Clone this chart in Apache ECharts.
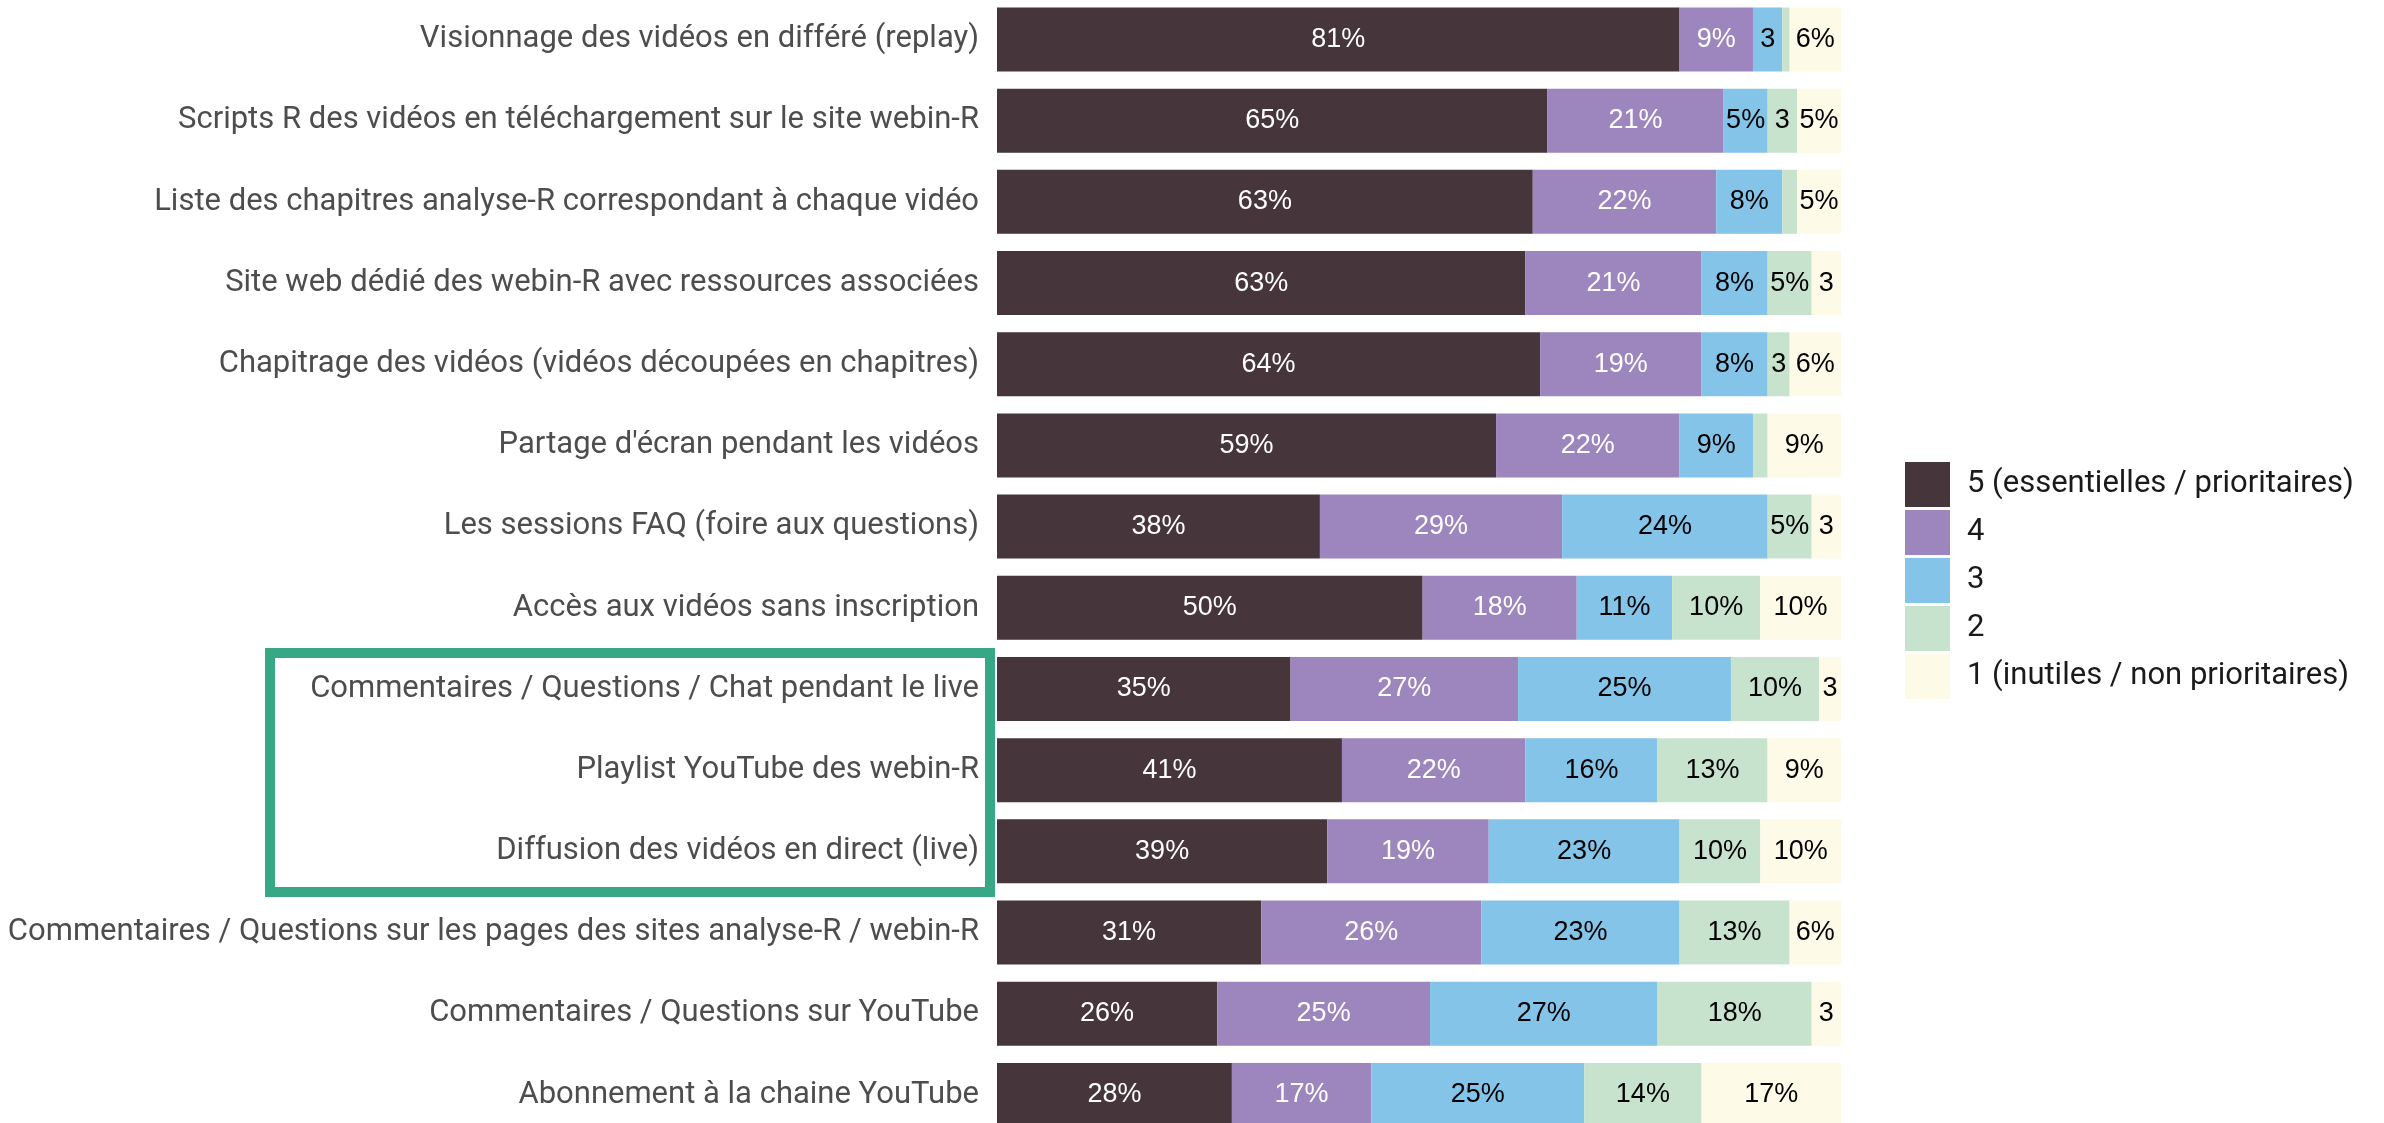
<!DOCTYPE html>
<html>
<head>
<meta charset="utf-8">
<script src="https://cdn.jsdelivr.net/npm/echarts@6/dist/echarts.min.js"></script>
<style>html,body{margin:0;padding:0;background:#fff;}#c{width:2384px;height:1123px;}</style>
</head>
<body>
<div id="c"></div>
<script>
const categories = [
  "Visionnage des vidéos en différé (replay)",
  "Scripts R des vidéos en téléchargement sur le site webin-R",
  "Liste des chapitres analyse-R correspondant à chaque vidéo",
  "Site web dédié des webin-R avec ressources associées",
  "Chapitrage des vidéos (vidéos découpées en chapitres)",
  "Partage d'écran pendant les vidéos",
  "Les sessions FAQ (foire aux questions)",
  "Accès aux vidéos sans inscription",
  "Commentaires / Questions / Chat pendant le live",
  "Playlist YouTube des webin-R",
  "Diffusion des vidéos en direct (live)",
  "Commentaires / Questions sur les pages des sites analyse-R / webin-R",
  "Commentaires / Questions sur YouTube",
  "Abonnement à la chaine YouTube"
];
const seriesNames = ["5 (essentielles / prioritaires)", "4", "3", "2", "1 (inutiles / non prioritaires)"];
const s5 = [80.87, 65.22, 63.48, 62.61, 64.35, 59.13, 38.26, 50.43, 34.78, 40.87, 39.13, 31.30, 26.09, 27.83];
const s4 = [8.70, 20.87, 21.74, 20.87, 19.13, 21.74, 28.70, 18.26, 26.96, 21.74, 19.13, 26.09, 25.22, 16.52];
const s3 = [3.48, 5.22, 7.83, 7.83, 7.83, 8.70, 24.35, 11.30, 25.22, 15.65, 22.61, 23.48, 26.96, 25.22];
const s2 = [0.87, 3.48, 1.74, 5.22, 2.61, 1.74, 5.22, 10.43, 10.43, 13.04, 9.57, 13.04, 18.26, 13.91];
const s1 = [6.09, 5.22, 5.22, 3.48, 6.09, 8.70, 3.48, 9.57, 2.61, 8.70, 9.57, 6.09, 3.48, 16.52];

const values = [s5, s4, s3, s2, s1];
const colors = ["#46353B", "#9D85BE", "#83C4E8", "#C8E3CD", "#FEFAE8"];
const labelColors = ["#ffffff", "#ffffff", "#000000", "#000000", "#000000"];

function fmt(p) {
  const v = p.value;
  if (v < 2) return "";
  const r = Math.round(v);
  return r < 5 ? String(r) : r + "%";
}

const chart = echarts.init(document.getElementById("c"), null, {renderer: "canvas"});
chart.setOption({
  animation: false,
  backgroundColor: "#ffffff",
  grid: {left: 997, width: 844, top: -1.1, height: 1136.6, containLabel: false, outerBoundsMode: "none"},
  xAxis: {type: "value", min: 0, max: 100, show: false},
  yAxis: {
    type: "category", data: categories, inverse: true,
    axisLine: {show: false}, axisTick: {show: false}, splitLine: {show: false},
    axisLabel: {fontFamily: "Roboto", fontSize: 31, color: "#4D4D4D", margin: 18}
  },
  legend: {
    orient: "vertical", left: 1900, top: 457,
    itemWidth: 45, itemHeight: 45, itemGap: 3, icon: "rect",
    data: seriesNames,
    textStyle: {fontFamily: "Roboto", fontSize: 31, color: "#1a1a1a", padding: [0, 0, 0, 12]}
  },
  series: values.map((d, i) => ({
    name: seriesNames[i], type: "bar", stack: "total", data: d,
    barWidth: 64,
    itemStyle: {color: colors[i]},
    label: {show: true, position: "inside", formatter: fmt, color: labelColors[i],
            fontFamily: "Liberation Sans", fontSize: 27}
  })),
  graphic: [{
    type: "rect", z: 100,
    shape: {x: 270, y: 653, width: 720, height: 239},
    style: {fill: null, stroke: "#36A886", lineWidth: 10}
  }]
});
</script>
</body>
</html>
